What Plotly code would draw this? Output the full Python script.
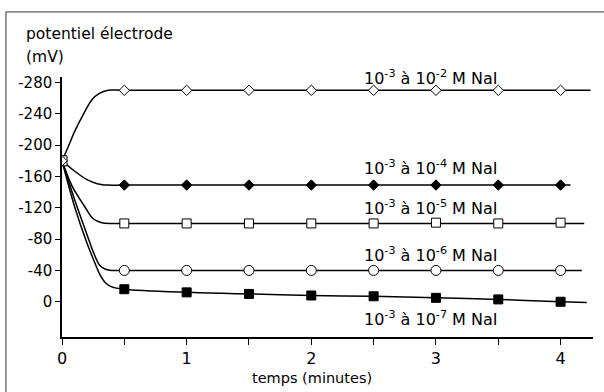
import plotly.graph_objects as go

# ---- data ----
marker_x = [0.5, 1.0, 1.5, 2.0, 2.5, 3.0, 3.5, 4.0]

y_e2 = [-270, -270, -270, -270, -270, -270, -270, -270]
y_e4 = [-149, -149, -149, -149, -149, -149, -149, -149]
y_e5 = [-100, -100, -100, -100, -100, -101, -100, -101]
y_e6 = [-40, -40, -40, -40, -40, -40, -40, -40]
y_e7 = [-16, -12, -10, -8, -7, -5, -3, 0]

# transition curves (start at t=0, -180 mV)
curve_e2_x = [0, 0.05, 0.10, 0.17, 0.24, 0.30, 0.37, 0.5]
curve_e2_y = [-180, -198, -217, -239, -258, -266, -270, -270]
curve_e4_x = [0, 0.10, 0.20, 0.29, 0.37, 0.5]
curve_e4_y = [-180, -167, -156, -150.5, -149, -149]
curve_e5_x = [0, 0.08, 0.18, 0.25, 0.32, 0.40, 0.5]
curve_e5_y = [-180, -148, -122, -106, -101, -100, -100]
curve_e6_x = [0, 0.10, 0.20, 0.25, 0.30, 0.35, 0.40, 0.5]
curve_e6_y = [-180, -131, -86, -64, -47, -41.5, -40, -40]
curve_e7_x = [0, 0.10, 0.20, 0.25, 0.30, 0.35, 0.40, 0.5]
curve_e7_y = [-180, -122, -75, -55, -36, -24, -19, -16]

# line end points
end_x = [4.24, 4.08, 4.19, 4.17, 4.21]
end_y = [-270, -149, -100, -40, 1]

start_x = [0]
start_y = [-180]

labels = [
    "10<sup>-3</sup> à 10<sup>-2</sup> M NaI",
    "10<sup>-3</sup> à 10<sup>-4</sup> M NaI",
    "10<sup>-3</sup> à 10<sup>-5</sup> M NaI",
    "10<sup>-3</sup> à 10<sup>-6</sup> M NaI",
    "10<sup>-3</sup> à 10<sup>-7</sup> M NaI",
]
label_y = [-287, -172, -121, -60, 22]

y_ticks = [-280, -240, -200, -160, -120, -80, -40, 0]
x_ticks = [0, 1, 2, 3, 4]

FONT = "DejaVu Sans"

fig = go.Figure()

curves = [
    (curve_e2_x, curve_e2_y, y_e2, "diamond", "white", 8),
    (curve_e4_x, curve_e4_y, y_e4, "diamond", "black", 8),
    (curve_e5_x, curve_e5_y, y_e5, "square", "white", 9),
    (curve_e6_x, curve_e6_y, y_e6, "circle", "white", 10),
    (curve_e7_x, curve_e7_y, y_e7, "square", "black", 9),
]

for i, (cx, cy, my, sym, fill, sz) in enumerate(curves):
    if i == 4:
        lx = cx + marker_x[1:] + [end_x[i]]
        ly = cy + my[1:] + [end_y[i]]
    else:
        lx = cx + [end_x[i]]
        ly = cy + [end_y[i]]
    fig.add_trace(go.Scatter(x=lx, y=ly, mode="lines",
                             line=dict(color="black", width=1.5, shape="spline", smoothing=0.9),
                             showlegend=False, hoverinfo="skip"))

for i, (cx, cy, my, sym, fill, sz) in enumerate(curves):
    fig.add_trace(go.Scatter(x=marker_x, y=my, mode="markers",
                             marker=dict(symbol=sym, size=sz, color=fill,
                                         line=dict(color="black", width=1)),
                             showlegend=False))

# start point markers
fig.add_trace(go.Scatter(x=start_x, y=start_y, mode="markers",
                         marker=dict(symbol="square", size=10, color="white",
                                     line=dict(color="black", width=1)), showlegend=False))
fig.add_trace(go.Scatter(x=start_x, y=start_y, mode="markers",
                         marker=dict(symbol="diamond", size=8, color="white",
                                     line=dict(color="black", width=1)), showlegend=False))

for lab, ly in zip(labels, label_y):
    fig.add_annotation(x=2.96, y=ly, xref="x", yref="y", text=lab, showarrow=False,
                       font=dict(family=FONT, size=16, color="black"),
                       xanchor="center", yanchor="middle")

fig.add_annotation(x=-0.0716, y=1.166, xref="paper", yref="paper",
                   text="potentiel électrode", showarrow=False, xanchor="left", yanchor="middle",
                   font=dict(family=FONT, size=15.5, color="black"))
fig.add_annotation(x=-0.0716, y=1.077, xref="paper", yref="paper",
                   text="(mV)", showarrow=False, xanchor="left", yanchor="middle",
                   font=dict(family=FONT, size=15.5, color="black"))
fig.add_annotation(x=0.471, y=-0.159, xref="paper", yref="paper",
                   text="temps (minutes)", showarrow=False, xanchor="center", yanchor="middle",
                   font=dict(family=FONT, size=14.5, color="black"))

# outer frame
fig.add_shape(type="rect", xref="paper", yref="paper",
              x0=-0.1055, x1=1.03, y0=-0.23, y1=1.2503,
              line=dict(color="#333333", width=1), layer="below")

fig.update_xaxes(range=[0, 4.26], tickvals=x_ticks, ticktext=[str(v) for v in x_ticks],
                 ticks="outside", ticklen=6, tickwidth=1.2, tickcolor="black",
                 showline=True, linecolor="black", linewidth=1.5,
                 showgrid=False, zeroline=False,
                 minor=dict(tickvals=[0.5, 1.5, 2.5, 3.5], ticks="outside", ticklen=6,
                            tickcolor="black", tickwidth=1.2),
                 tickfont=dict(family=FONT, size=16, color="black"))
fig.update_yaxes(range=[45, -287], tickvals=y_ticks, ticktext=[str(v) for v in y_ticks],
                 ticks="outside", ticklen=5, tickwidth=1.2, tickcolor="black",
                 showline=True, linecolor="black", linewidth=1.5,
                 showgrid=False, zeroline=False,
                 tickfont=dict(family=FONT, size=15, color="black"))

fig.update_layout(width=604, height=392,
                  margin=dict(l=62, r=11, t=77, b=55),
                  paper_bgcolor="white", plot_bgcolor="white")

fig.write_html("out.html", config={"displayModeBar": False},
               post_script="document.body.style.margin='0';")
